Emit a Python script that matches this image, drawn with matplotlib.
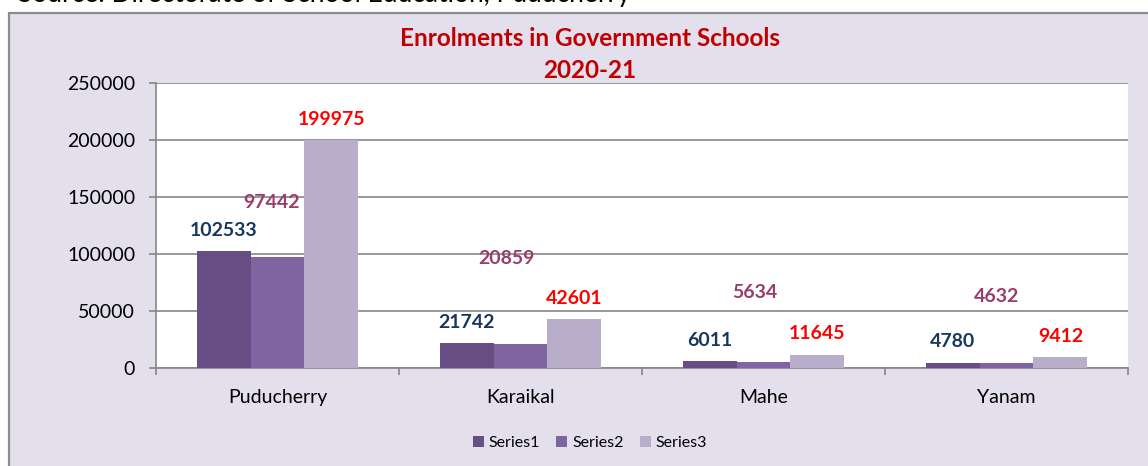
import numpy as np
import matplotlib.pyplot as plt
from matplotlib.patches import Rectangle

plt.rcParams['font.family'] = ['Lato', 'DejaVu Sans']

# данные
districts = ['Puducherry', 'Karaikal', 'Mahe', 'Yanam']
series1 = [102533, 21742, 6011, 4780]
series2 = [97442, 20859, 5634, 4632]
series3 = [199975, 42601, 11645, 9412]
series_names = ['Series1', 'Series2', 'Series3']

bar_colors = ['#674F86', '#8064A2', '#B8AECA']
label_colors = ['#17375E', '#9B3D6C', '#FF0000']
# подписи Series2 сдвинуты вручную (в точках)
s2_dx = [-4, -10, -6, -7]
s2_dy = [39, 62, 50, 48]

fig = plt.figure(figsize=(11.48, 4.66), dpi=100)
fig.patch.set_facecolor('white')

# фон области диаграммы
bg = Rectangle((9 / 1148, -0.05), 1.1, 1 - 13 / 466 + 0.05, transform=fig.transFigure,
               facecolor='#E4DFEC', edgecolor='#8C8C8C', linewidth=1.6, zorder=-1)
fig.patches.append(bg)

# обрезанная подпись источника сверху
fig.text(18 / 1148, 1 - 2 / 466, 'Source: Directorate of School Education, Puducherry',
         fontsize=19, color='black', ha='left', va='baseline')

ax = fig.add_axes([156 / 1148, 1 - 368 / 466, (1128 - 156) / 1148, (368 - 83) / 466])
ax.set_facecolor('white')

x = np.arange(len(districts))
w = 0.2222
all_series = [series1, series2, series3]
for k, vals in enumerate(all_series):
    ax.bar(x + (k - 1) * w, vals, w, color=bar_colors[k], label=series_names[k],
           zorder=3, edgecolor='none')

for k, vals in enumerate(all_series):
    for i, v in enumerate(vals):
        if k == 1:
            off = (s2_dx[i], s2_dy[i])
        else:
            off = (0, 15)
        ax.annotate(str(v), (x[i] + (k - 1) * w, v), xytext=off, textcoords='offset points',
                    ha='center', va='center', fontsize=14, fontweight='bold',
                    color=label_colors[k], zorder=4)

ax.set_xlim(-0.5, len(districts) - 0.5)
ax.set_ylim(0, 250000)
ax.set_yticks(np.arange(0, 250001, 50000))
ax.set_yticklabels([str(t) for t in range(0, 250001, 50000)])
ax.set_xticks(x)
ax.set_xticklabels(districts)
ax.set_xticks(np.arange(-0.5, len(districts), 1), minor=True)
ax.tick_params(axis='x', which='major', length=0, pad=15, labelsize=14)
ax.tick_params(axis='x', which='minor', length=5, width=1.2, color='#868686')
ax.tick_params(axis='y', length=5, width=1.2, color='#868686', pad=10, labelsize=14)
ax.grid(axis='y', color='#868686', linewidth=1.2, zorder=1)
ax.set_axisbelow(True)
for s in ['top', 'right']:
    ax.spines[s].set_visible(False)
for s in ['left', 'bottom']:
    ax.spines[s].set_color('#868686')
    ax.spines[s].set_linewidth(1.2)

fig.text(590 / 1148, 1 - 38 / 466, 'Enrolments in Government Schools', ha='center', va='center',
         fontsize=17.5, fontweight='bold', color='#C00000')
fig.text(590 / 1148, 1 - 70 / 466, '2020-21', ha='center', va='center',
         fontsize=17.5, fontweight='bold', color='#C00000')

fig.legend(loc='center', bbox_to_anchor=(590 / 1148, 1 - 443 / 466), ncol=3, frameon=False,
           fontsize=11.5, handlelength=0.7, handleheight=0.7, handletextpad=0.3, columnspacing=1.0)

plt.savefig('out.png', dpi=100)
